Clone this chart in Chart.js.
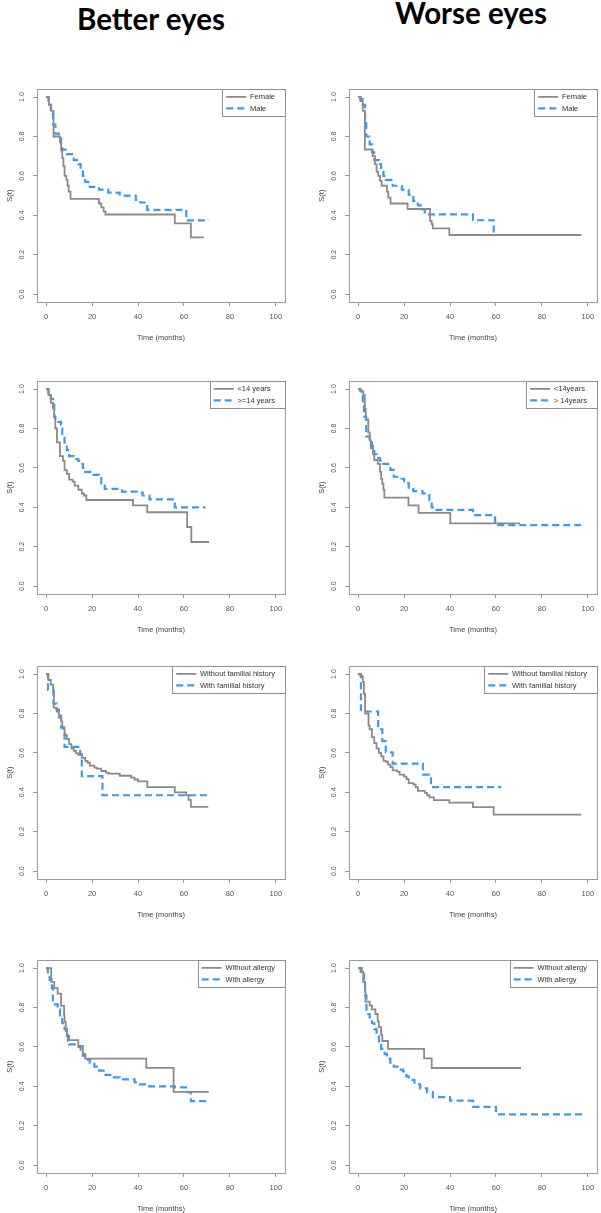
<!DOCTYPE html>
<html>
<head>
<meta charset="utf-8">
<script src="https://cdn.jsdelivr.net/npm/chart.js@4.4.1/dist/chart.umd.min.js"></script>
<style>
  body { margin: 0; background: #fff; }
  #page { position: relative; width: 601px; height: 1213px; overflow: hidden; background: #fff; }
  .head { position: absolute; width: 300px; text-align: center; font-family: Lato, 'Open Sans', sans-serif; font-weight: bold; font-size: 29.5px; color: #000; }
  canvas { position: absolute; }
</style>
</head>
<body>
<div id="page">
  <div class="head" style="left:1px; top:1px;">Better eyes</div>
  <div class="head" style="left:321px; top:-5px;">Worse eyes</div>
</div>
<script>
// axis ticks
const xTicks = [0, 20, 40, 60, 80, 100];
const yTicks = [0, 0.2, 0.4, 0.6, 0.8, 1.0];

// legend labels
const sexLabels = ['Female', 'Male'];
const ageBetterLabels = ['<14 years', '>=14 years'];
const ageWorseLabels = ['<14years', '> 14years'];
const familyLabels = ['Without familial history', 'With familial history'];
const allergyLabels = ['Without allergy', 'With allergy'];

// Kaplan-Meier steps: time (months) and S(t)
// better eyes - sex
const betterFemaleT = [0, 1.2, 2.2, 3.2, 6, 6.5, 7, 7.5, 8, 8.8, 9.3, 9.8, 10.6, 23, 24, 25, 25.8, 56, 63, 68.7];
const betterFemaleS = [1, 0.96, 0.93, 0.80, 0.77, 0.73, 0.69, 0.65, 0.60, 0.58, 0.55, 0.52, 0.483, 0.46, 0.44, 0.42, 0.404, 0.359, 0.288, 0.288];
const betterMaleT = [0, 1, 2, 3, 4, 5.5, 6.5, 7, 9, 12, 14, 15, 16, 17, 19, 23, 27, 32, 39, 41, 44, 61, 71];
const betterMaleS = [1, 0.98, 0.93, 0.86, 0.815, 0.80, 0.76, 0.733, 0.71, 0.68, 0.66, 0.63, 0.60, 0.57, 0.544, 0.53, 0.515, 0.50, 0.478, 0.465, 0.428, 0.374, 0.374];
// worse eyes - sex
const worseFemaleT = [0, 1, 2, 2.9, 6.3, 7.3, 8, 8.7, 9.5, 10.2, 12.5, 13.1, 14.1, 21.5, 31.3, 32, 32.5, 39.7, 97.2];
const worseFemaleS = [1, 0.98, 0.93, 0.734, 0.70, 0.66, 0.62, 0.60, 0.575, 0.55, 0.52, 0.49, 0.46, 0.432, 0.37, 0.355, 0.334, 0.30, 0.30];
const worseMaleT = [0, 1, 2, 3, 3.5, 5, 6, 7, 9, 10, 11, 12, 15, 19, 22, 24, 26, 28, 29, 50, 59, 70];
const worseMaleS = [1, 0.99, 0.96, 0.88, 0.80, 0.76, 0.72, 0.68, 0.66, 0.63, 0.60, 0.58, 0.55, 0.53, 0.505, 0.473, 0.45, 0.43, 0.405, 0.375, 0.30, 0.30];
// better eyes - age
const betterYoungT = [0, 1, 2, 3, 3.5, 4, 4.7, 6, 7.3, 8, 9, 10, 11.5, 12.4, 14, 15.5, 16.4, 17.5, 37.8, 44, 61.4, 63.2, 70.9];
const betterYoungS = [1, 0.97, 0.93, 0.90, 0.86, 0.80, 0.73, 0.66, 0.636, 0.589, 0.57, 0.54, 0.53, 0.51, 0.489, 0.47, 0.46, 0.437, 0.41, 0.375, 0.30, 0.224, 0.224];
const betterOldT = [0, 1, 2, 3, 3.5, 3.9, 6.5, 7, 8, 9, 10, 12, 14, 15, 16, 17, 20, 23, 24, 25.5, 33, 40, 42, 45, 56, 69.4];
const betterOldS = [1, 0.98, 0.95, 0.92, 0.86, 0.834, 0.80, 0.76, 0.72, 0.69, 0.66, 0.645, 0.635, 0.62, 0.60, 0.58, 0.565, 0.55, 0.52, 0.494, 0.48, 0.475, 0.46, 0.44, 0.40, 0.40];
// worse eyes - age
const worseYoungT = [0, 1, 2.2, 2.9, 3.3, 4.4, 5, 5.5, 6.5, 7, 8.5, 9.5, 10, 10.5, 11, 11.4, 21.9, 26.3, 40.1, 70.4];
const worseYoungS = [1, 0.99, 0.97, 0.90, 0.846, 0.78, 0.74, 0.70, 0.67, 0.64, 0.62, 0.58, 0.544, 0.52, 0.49, 0.449, 0.41, 0.372, 0.318, 0.318];
const worseOldT = [0, 1, 1.5, 2, 2.5, 3.5, 5, 6, 7, 8, 9.5, 11, 13, 14, 15.5, 18, 20, 22, 24, 28, 31, 32, 33, 50, 59.6, 97];
const worseOldS = [1, 0.99, 0.98, 0.93, 0.86, 0.76, 0.74, 0.71, 0.67, 0.65, 0.637, 0.62, 0.61, 0.59, 0.555, 0.545, 0.523, 0.50, 0.482, 0.47, 0.436, 0.40, 0.387, 0.36, 0.31, 0.31];
// better eyes - familial history
const betterNoFamT = [0, 1, 2, 3, 3.3, 4.6, 5.5, 6.5, 7, 8, 9, 10, 11, 12, 13, 14, 15.5, 17, 18, 19, 21, 22, 24, 26, 27, 32, 37, 38.5, 40, 44, 56, 61, 62, 63, 70.6];
const betterNoFamS = [1, 0.97, 0.946, 0.91, 0.83, 0.81, 0.79, 0.76, 0.73, 0.69, 0.67, 0.645, 0.623, 0.61, 0.598, 0.59, 0.575, 0.56, 0.55, 0.535, 0.525, 0.52, 0.508, 0.50, 0.495, 0.484, 0.475, 0.465, 0.455, 0.426, 0.40, 0.385, 0.362, 0.326, 0.326];
const betterFamT = [0, 0.8, 3.2, 4.5, 5.5, 6.5, 7.5, 8, 14.8, 15.5, 24.5, 70.6];
const betterFamS = [1, 0.92, 0.85, 0.82, 0.78, 0.728, 0.70, 0.631, 0.593, 0.482, 0.385, 0.385];
// worse eyes - familial history
const worseNoFamT = [0, 1, 2, 2.5, 3, 4.5, 5, 6, 7, 8, 9, 10, 11, 12, 13, 14, 15, 17, 18, 20, 21, 22, 24, 25, 26, 29, 30, 31, 33, 39.7, 50, 59, 97.2];
const worseNoFamS = [1, 0.99, 0.96, 0.90, 0.80, 0.738, 0.72, 0.68, 0.65, 0.623, 0.60, 0.582, 0.56, 0.555, 0.54, 0.528, 0.511, 0.505, 0.49, 0.48, 0.467, 0.447, 0.44, 0.426, 0.407, 0.397, 0.385, 0.374, 0.36, 0.348, 0.325, 0.287, 0.287];
const worseFamT = [0, 1.2, 8.7, 10.5, 12, 15, 28.2, 31.7, 62.3];
const worseFamS = [1, 0.81, 0.72, 0.66, 0.603, 0.546, 0.49, 0.426, 0.426];
// better eyes - allergy
const betterNoAllT = [0, 2.2, 3.5, 5, 6.5, 7.8, 8, 8.5, 9, 10, 14, 16, 17, 43.6, 55.5, 70.8];
const betterNoAllS = [1, 0.93, 0.898, 0.87, 0.808, 0.76, 0.727, 0.68, 0.654, 0.634, 0.605, 0.564, 0.54, 0.494, 0.372, 0.372];
const betterAllT = [0, 0.7, 1.5, 2.5, 2.9, 5, 6, 7, 8, 9, 9.5, 10, 13.5, 15, 16, 17, 19, 21, 23, 25, 29, 32, 38.5, 40, 43, 56, 61.5, 63, 70.8];
const betterAllS = [1, 0.97, 0.94, 0.90, 0.816, 0.79, 0.76, 0.72, 0.69, 0.66, 0.63, 0.613, 0.60, 0.58, 0.555, 0.535, 0.52, 0.50, 0.48, 0.458, 0.445, 0.435, 0.42, 0.41, 0.40, 0.395, 0.37, 0.325, 0.325];
// worse eyes - allergy
const worseNoAllT = [0, 1, 2.2, 3, 3.2, 5, 6, 7.5, 8.5, 9, 10, 10.5, 13, 28.7, 32, 70.9];
const worseNoAllS = [1, 0.98, 0.93, 0.88, 0.83, 0.81, 0.79, 0.767, 0.73, 0.70, 0.66, 0.63, 0.59, 0.542, 0.493, 0.493];
const worseAllT = [0, 1.5, 2.5, 3, 3.6, 5, 6, 7, 8, 9, 10, 11.5, 12.5, 14, 15.5, 18, 19.5, 21, 22, 24.5, 27, 30, 32.5, 40, 50, 60, 97.8];
const worseAllS = [1, 0.98, 0.93, 0.86, 0.767, 0.75, 0.72, 0.69, 0.66, 0.62, 0.59, 0.565, 0.54, 0.52, 0.50, 0.485, 0.476, 0.45, 0.433, 0.41, 0.389, 0.37, 0.345, 0.327, 0.296, 0.258, 0.258];

const GRAY = '#8a8a8a';
const BLUE = '#3d9be9';
const AXIS = '#9a9a9a';
const FONT = "'Liberation Sans', Arial, sans-serif";

const rowTops = [83, 375, 660, 954];
const BOX_H = 219;

const panels = [
  { col: 0, row: 0, labels: sexLabels, a: [betterFemaleT, betterFemaleS], b: [betterMaleT, betterMaleS] },
  { col: 1, row: 0, labels: sexLabels, a: [worseFemaleT, worseFemaleS], b: [worseMaleT, worseMaleS] },
  { col: 0, row: 1, labels: ageBetterLabels, a: [betterYoungT, betterYoungS], b: [betterOldT, betterOldS] },
  { col: 1, row: 1, labels: ageWorseLabels, a: [worseYoungT, worseYoungS], b: [worseOldT, worseOldS] },
  { col: 0, row: 2, labels: familyLabels, a: [betterNoFamT, betterNoFamS], b: [betterFamT, betterFamS] },
  { col: 1, row: 2, labels: familyLabels, a: [worseNoFamT, worseNoFamS], b: [worseFamT, worseFamS] },
  { col: 0, row: 3, labels: allergyLabels, a: [betterNoAllT, betterNoAllS], b: [betterAllT, betterAllS] },
  { col: 1, row: 3, labels: allergyLabels, a: [worseNoAllT, worseNoAllS], b: [worseAllT, worseAllS] }
];

function km(t, s) {
  return t.map((v, i) => ({ x: v, y: s[i] }));
}

// legend samples take the dataset's line style (dash, width), not the point style
function lineLabels(chart) {
  const items = Chart.defaults.plugins.legend.labels.generateLabels(chart);
  items.forEach(it => {
    const ds = chart.data.datasets[it.datasetIndex];
    it.lineDash = ds.borderDash || [];
    it.lineWidth = ds.borderWidth;
    it.strokeStyle = ds.borderColor;
  });
  return items;
}

// R style legend: top-right corner of the plot box, with a frame
const legendCorner = {
  id: 'legendCorner',
  afterLayout(chart) {
    const lg = chart.legend, ca = chart.chartArea;
    lg.left = ca.right - lg.width;
    lg.right = ca.right;
    lg.top = ca.top;
  },
  afterDraw(chart) {
    const lg = chart.legend;
    const pad = lg.options.labels.padding;
    const h = pad + lg.columnSizes[0].height;
    const ctx = chart.ctx;
    ctx.save();
    ctx.strokeStyle = '#8f8f8f';
    ctx.lineWidth = 1;
    ctx.setLineDash([]);
    ctx.strokeRect(Math.round(lg.left) + 0.5, Math.round(lg.top) + 0.5, Math.round(lg.width), Math.round(h));
    ctx.restore();
  }
};

const page = document.getElementById('page');

panels.forEach(p => {
  const cv = document.createElement('canvas');
  const left = p.col === 0 ? 0 : 312;
  const w = p.col === 0 ? 300 : 289;
  const h = 4 + BOX_H + 44;
  cv.width = w;
  cv.height = h;
  cv.style.left = left + 'px';
  cv.style.top = (rowTops[p.row] - 4) + 'px';
  page.appendChild(cv);

  new Chart(cv.getContext('2d'), {
    type: 'line',
    data: {
      datasets: [
        {
          label: p.labels[0],
          data: km(p.a[0], p.a[1]),
          borderColor: GRAY,
          borderWidth: 1.8,
          stepped: true,
          pointRadius: 0,
          fill: false
        },
        {
          label: p.labels[1],
          data: km(p.b[0], p.b[1]),
          borderColor: BLUE,
          borderWidth: 2.2,
          borderDash: [7, 4],
          stepped: true,
          pointRadius: 0,
          fill: false
        }
      ]
    },
    options: {
      responsive: false,
      animation: false,
      devicePixelRatio: 1,
      layout: { padding: { left: 5, right: p.col === 0 ? 15 : 4, top: 4, bottom: 4 } },
      plugins: {
        tooltip: { enabled: false },
        legend: {
          position: 'chartArea',
          align: 'start',
          labels: {
            usePointStyle: true,
            pointStyle: 'line',
            pointStyleWidth: 20,
            padding: 4,
            color: '#333',
            font: { family: FONT, size: 7.5 },
            generateLabels: lineLabels
          }
        }
      },
      scales: {
        x: {
          type: 'linear',
          position: 'bottom',
          min: -4,
          max: 104,
          afterBuildTicks: s => { s.ticks = xTicks.map(v => ({ value: v })); },
          afterFit: s => { s.height = 40; },
          ticks: { padding: 6, color: '#555', font: { family: FONT, size: 7.5 } },
          grid: { drawOnChartArea: false, drawTicks: true, tickLength: 4, color: AXIS },
          border: { display: true, color: AXIS, width: 1 },
          title: { display: true, text: 'Time (months)', color: '#444', padding: 0, font: { family: FONT, size: 7.5 } }
        },
        y: {
          type: 'linear',
          position: 'left',
          min: -0.04,
          max: 1.04,
          afterBuildTicks: s => { s.ticks = yTicks.map(v => ({ value: v })); },
          afterFit: s => { s.width = 32; },
          ticks: {
            minRotation: 90,
            maxRotation: 90,
            crossAlign: 'center',
            padding: 6,
            color: '#555',
            font: { family: FONT, size: 7 },
            callback: v => v.toFixed(1)
          },
          grid: { drawOnChartArea: false, drawTicks: true, tickLength: 4, color: AXIS },
          border: { display: true, color: AXIS, width: 1 },
          title: { display: true, text: 'S(t)', color: '#444', padding: 0, font: { family: FONT, size: 7.5 } }
        },
        x2: {
          type: 'linear',
          position: 'top',
          afterFit: s => { s.height = 0; },
          ticks: { display: false },
          grid: { display: false },
          border: { display: true, color: AXIS, width: 1 }
        },
        y2: {
          type: 'linear',
          position: 'right',
          afterFit: s => { s.width = 0; },
          ticks: { display: false },
          grid: { display: false },
          border: { display: true, color: AXIS, width: 1 }
        }
      }
    },
    plugins: [legendCorner]
  });
});
</script>
</body>
</html>
